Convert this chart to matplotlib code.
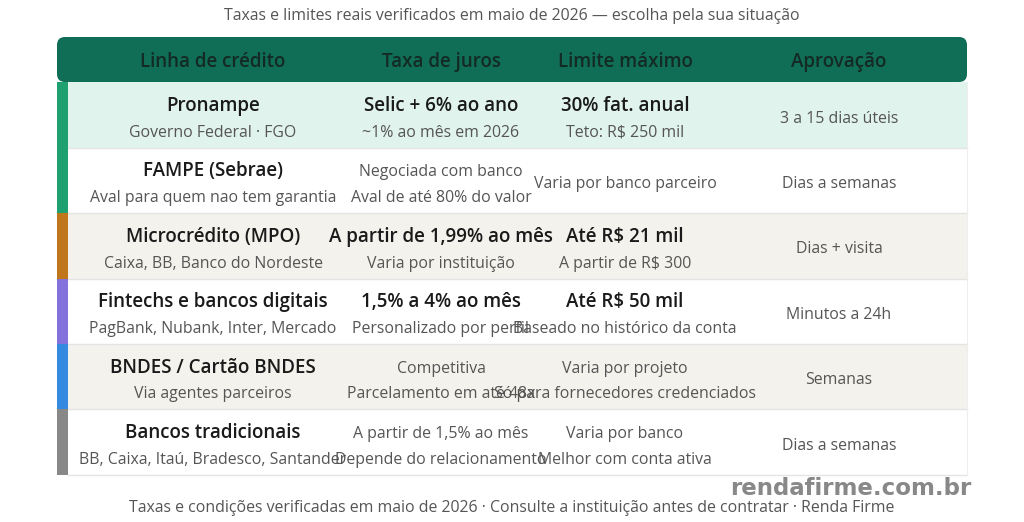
import matplotlib
matplotlib.use('Agg')
import matplotlib.pyplot as plt
from matplotlib.patches import Rectangle, FancyBboxPatch

plt.rcParams['font.family'] = ['Open Sans', 'Noto Sans', 'DejaVu Sans']

title = 'Taxas e limites reais verificados em maio de 2026 — escolha pela sua situação'
footer = 'Taxas e condições verificadas em maio de 2026 · Consulte a instituição antes de contratar · Renda Firme'
watermark = 'rendafirme.com.br'
headers = ['Linha de crédito', 'Taxa de juros', 'Limite máximo', 'Aprovação']

linhas = ['Pronampe', 'FAMPE (Sebrae)', 'Microcrédito (MPO)', 'Fintechs e bancos digitais',
          'BNDES / Cartão BNDES', 'Bancos tradicionais']
linhas_sub = ['Governo Federal · FGO', 'Aval para quem nao tem garantia', 'Caixa, BB, Banco do Nordeste',
              'PagBank, Nubank, Inter, Mercado', 'Via agentes parceiros', 'BB, Caixa, Itaú, Bradesco, Santander']
taxas = ['Selic + 6% ao ano', 'Negociada com banco', 'A partir de 1,99% ao mês', '1,5% a 4% ao mês',
         'Competitiva', 'A partir de 1,5% ao mês']
taxas_sub = ['~1% ao mês em 2026', 'Aval de até 80% do valor', 'Varia por instituição', 'Personalizado por perfil',
             'Parcelamento em até 48x', 'Depende do relacionamento']
taxas_bold = [True, False, True, True, False, False]
limites = ['30% fat. anual', 'Varia por banco parceiro', 'Até R$ 21 mil', 'Até R$ 50 mil',
           'Varia por projeto', 'Varia por banco']
limites_sub = ['Teto: R$ 250 mil', '', 'A partir de R$ 300', 'Baseado no histórico da conta',
               'Só para fornecedores credenciados', 'Melhor com conta ativa']
limites_bold = [True, False, True, True, False, False]
aprovacao = ['3 a 15 dias úteis', 'Dias a semanas', 'Dias + visita', 'Minutos a 24h', 'Semanas', 'Dias a semanas']

strip_cores = ['#1fa070', '#1fa070', '#c0761a', '#8472dc', '#338ae0', '#888888']
fundos = ['#e0f3ec', '#ffffff', '#f3f2ec', '#ffffff', '#f3f2ec', '#ffffff']

col_x = [213, 441, 625, 839]
left, right = 57, 967
strip_w = 11
row_top = 82.3
row_h = 65.4
DARK = '#1a1a1a'
GRAY = '#555555'
BIG = 13.5
SMALL = 11.4

fig = plt.figure(figsize=(10.24, 5.22), dpi=100)
ax = fig.add_axes([0, 0, 1, 1])
ax.set_xlim(0, 1024)
ax.set_ylim(522, 0)
ax.axis('off')

def put(x, y, s, size, weight=400, color=GRAY, **kw):
    ax.text(x, y, s, ha='center', va='baseline', fontsize=size, fontweight=weight, color=color, zorder=5, **kw)

put(512, 20, title, 11.45)

# cabecalho
ax.add_patch(FancyBboxPatch((left + 8, 37 + 8), right - left - 16, 45 - 16,
                            boxstyle='round,pad=8,rounding_size=8', fc='#106e56', ec='none', zorder=3))
for x, h in zip(col_x, headers):
    put(x, 66.7, h, 13.5, 600, '#142a24')

for i in range(len(linhas)):
    y0 = row_top + i * row_h
    ax.add_patch(Rectangle((left, y0), right - left, row_h, fc=fundos[i], ec='none', zorder=1))
    ax.plot([left + strip_w, right], [y0 + row_h, y0 + row_h], color='#e4e4e4', lw=1, zorder=2)
    ax.plot([right, right], [y0, y0 + row_h], color='#eeeeee', lw=0.8, zorder=2)
    ax.add_patch(Rectangle((left, y0), strip_w, row_h, fc=strip_cores[i], ec='none', zorder=2))

    top = y0 + 28.7
    sub = y0 + 54.5
    mid = y0 + 40.3
    put(col_x[0], top, linhas[i], BIG, 600, DARK)
    put(col_x[0], sub, linhas_sub[i], SMALL)

    if taxas_bold[i]:
        put(col_x[1], top, taxas[i], BIG, 600, DARK)
    else:
        put(col_x[1], top, taxas[i], SMALL)
    put(col_x[1], sub, taxas_sub[i], SMALL)

    if limites_bold[i]:
        put(col_x[2], top, limites[i], BIG, 600, DARK)
    elif limites_sub[i]:
        put(col_x[2], top, limites[i], SMALL)
    else:
        put(col_x[2], mid, limites[i], SMALL)
    if limites_sub[i]:
        put(col_x[2], sub, limites_sub[i], SMALL)
    put(col_x[3], mid, aprovacao[i], SMALL)

put(512, 511.7, footer, 11.43)
ax.text(850.5, 495, watermark, ha='center', va='baseline', fontsize=16.5, fontweight='bold',
        family='DejaVu Sans', color='#888888', zorder=6)

fig.savefig('out.png', dpi=100)
